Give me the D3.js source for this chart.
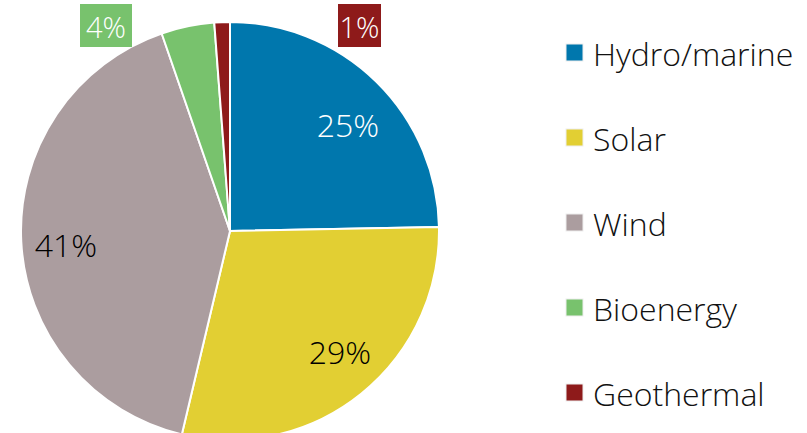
<!DOCTYPE html>
<html lang="en">
<head>
    <meta charset="UTF-8">
    <title>Renewable share</title>
    <script src="https://cdn.jsdelivr.net/npm/d3@7"></script>
    <style>
        body { margin: 0; background: #ffffff; }
        .etiqueta { font-family: 'Open Sans', sans-serif; font-weight: 300; font-size: 32px; }
        .caja { font-family: 'Open Sans', sans-serif; font-weight: 300; font-size: 29px; }
        .leyenda { font-family: 'Open Sans', sans-serif; font-weight: 300; font-size: 32px; fill: #111; }
    </style>
</head>
<body>
<div id="grafico"></div>
<script>
var w = 807, h = 433;

// datos
var categorias = ["Hydro/marine", "Solar", "Wind", "Bioenergy", "Geothermal"];
var valores = [24.7, 29.0, 41.0, 4.1, 1.2];
var etiquetas = ["25%", "29%", "41%", "4%", "1%"];
var colores = ["#0077ad", "#e2cf33", "#ab9d9f", "#78c26d", "#8e1a1a"];
var coloresTexto = ["#ffffff", "#000000", "#000000", "#ffffff", "#ffffff"];

var cx = 230, cy = 231, radio = 209;

var svg = d3.select("#grafico")
    .append("svg")
    .attr("width", w)
    .attr("height", h);

var datos = categorias.map(function(c, i){
    return { nombre: c, valor: valores[i], etiqueta: etiquetas[i], color: colores[i], texto: coloresTexto[i] };
});

var pie = d3.pie()
    .sort(null)
    .value(function(d){ return d.valor; });

var arco = d3.arc()
    .innerRadius(0)
    .outerRadius(radio);

var g = svg.append("g")
    .attr("transform", "translate(" + cx + "," + cy + ")");

var porciones = pie(datos);

g.selectAll("path")
    .data(porciones)
    .enter()
    .append("path")
    .attr("d", arco)
    .attr("fill", function(d){ return d.data.color; })
    .attr("stroke", "#ffffff")
    .attr("stroke-width", 2);

// etiquetas dentro de las porciones grandes
var posiciones = {
    "Hydro/marine": [118, -107],
    "Solar": [110, 120],
    "Wind": [-164, 13]
};

porciones.forEach(function(d){
    var p = posiciones[d.data.nombre];
    if (p) {
        g.append("text")
            .attr("class", "etiqueta")
            .attr("x", p[0])
            .attr("y", p[1])
            .attr("text-anchor", "middle")
            .attr("dominant-baseline", "central")
            .attr("fill", d.data.texto)
            .text(d.data.etiqueta);
    }
});

// etiquetas con caja para las porciones chicas
var cajas = [
    { nombre: "Bioenergy", x: 80, ancho: 52 },
    { nombre: "Geothermal", x: 338, ancho: 43 }
];
cajas.forEach(function(c){
    var d = porciones.filter(function(p){ return p.data.nombre === c.nombre; })[0];
    svg.append("rect")
        .attr("x", c.x)
        .attr("y", 4)
        .attr("width", c.ancho)
        .attr("height", 43)
        .attr("fill", d.data.color);
    svg.append("text")
        .attr("class", "caja")
        .attr("x", c.x + c.ancho / 2)
        .attr("y", 26)
        .attr("text-anchor", "middle")
        .attr("dominant-baseline", "central")
        .attr("fill", "#ffffff")
        .text(d.data.etiqueta);
});

// leyenda
var leyenda = svg.selectAll(".item")
    .data(datos)
    .enter()
    .append("g")
    .attr("class", "item")
    .attr("transform", function(d, i){ return "translate(566," + (53 + i * 85) + ")"; });

leyenda.append("rect")
    .attr("x", 0)
    .attr("y", -9)
    .attr("width", 17)
    .attr("height", 17)
    .attr("fill", function(d){ return d.color; })
    .attr("stroke", "#eeeeee")
    .attr("stroke-width", 1);

leyenda.append("text")
    .attr("class", "leyenda")
    .attr("x", 27)
    .attr("y", 0)
    .attr("dominant-baseline", "central")
    .text(function(d){ return d.nombre; });
</script>
</body>
</html>
